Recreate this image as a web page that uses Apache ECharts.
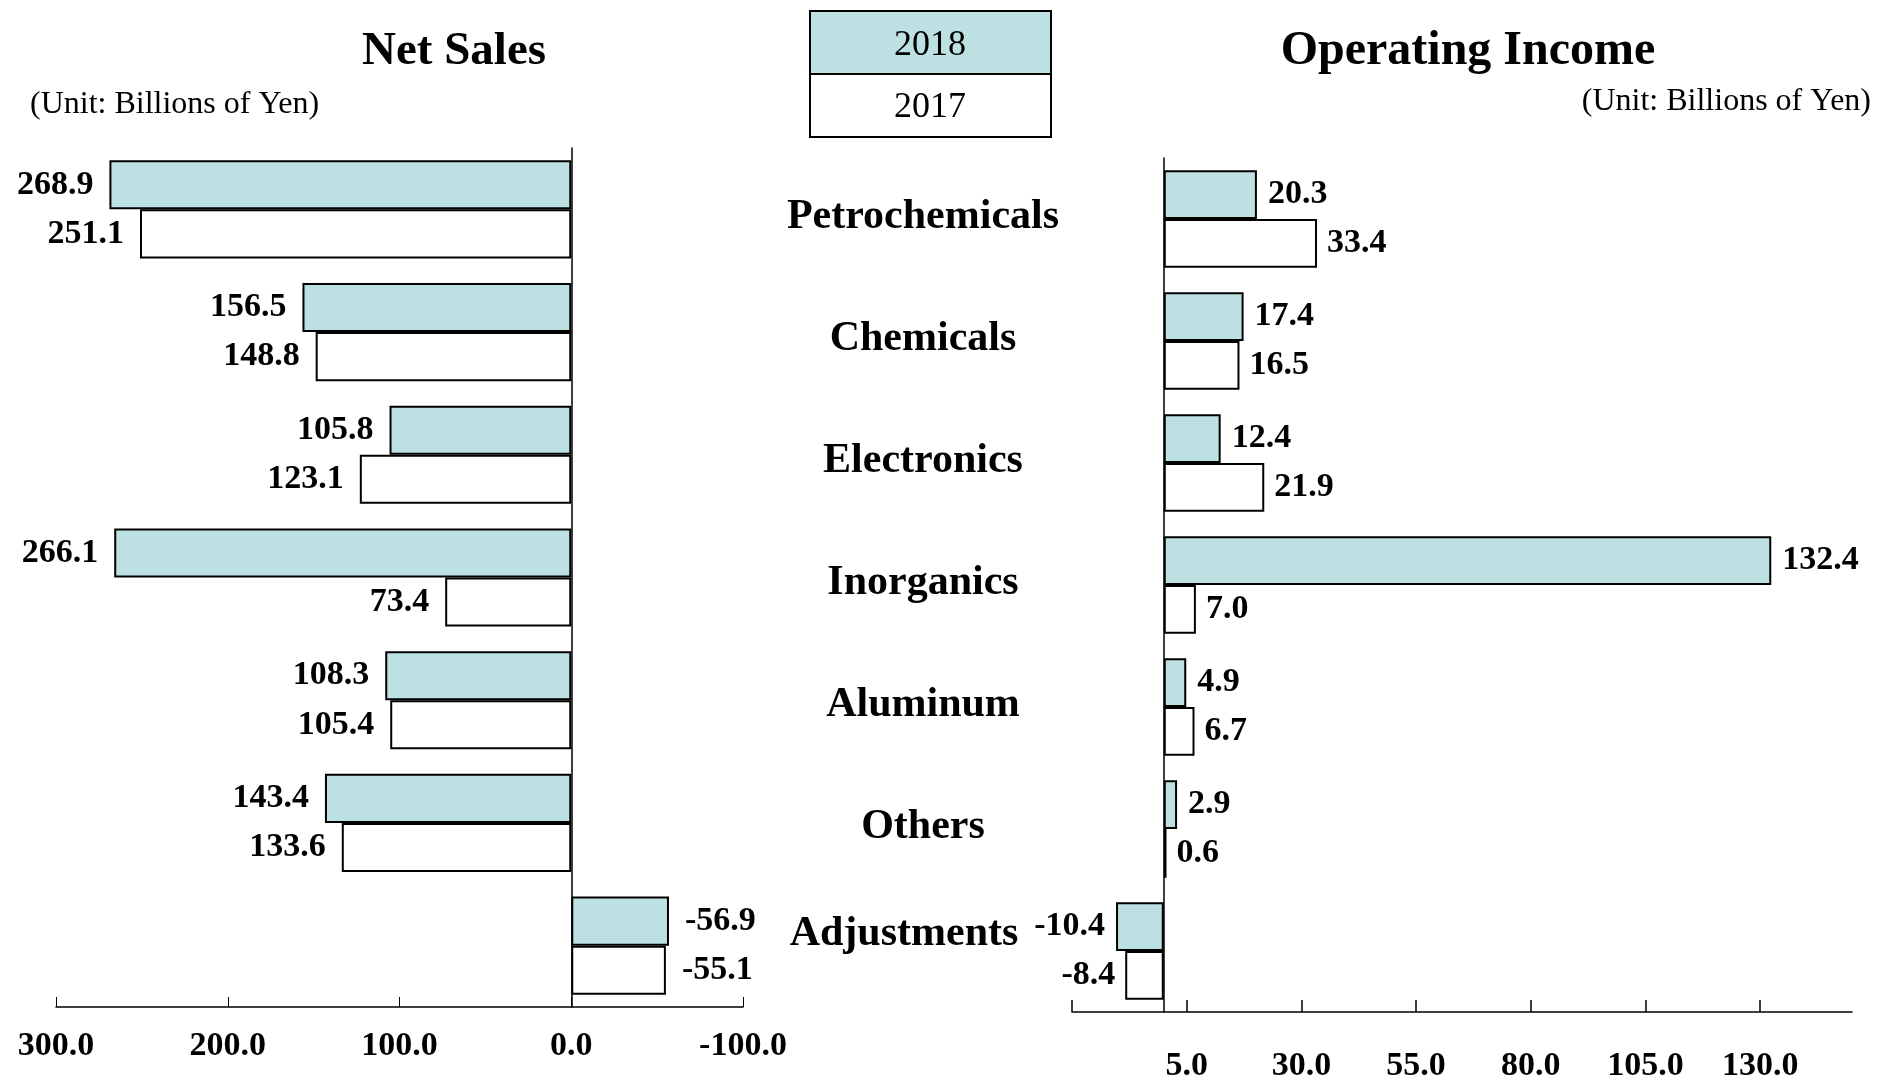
<!DOCTYPE html>
<html>
<head>
<meta charset="utf-8">
<script src="https://cdn.jsdelivr.net/npm/echarts@6/dist/echarts.min.js"></script>
<style>
    html, body { margin: 0; padding: 0; background: #fff; }
    #main { width: 1877px; height: 1084px; }
</style>
</head>
<body>
<div id="main"></div>
<script>
// 数据
let categories = ['Petrochemicals', 'Chemicals', 'Electronics', 'Inorganics', 'Aluminum', 'Others', 'Adjustments']
let years = ['2018', '2017']
let sales2018 = [268.9, 156.5, 105.8, 266.1, 108.3, 143.4, -56.9]
let sales2017 = [251.1, 148.8, 123.1, 73.4, 105.4, 133.6, -55.1]
let income2018 = [20.3, 17.4, 12.4, 132.4, 4.9, 2.9, -10.4]
let income2017 = [33.4, 16.5, 21.9, 7.0, 6.7, 0.6, -8.4]
let incomeTicks = [-20, 5, 30, 55, 80, 105, 130]
let incomeTickLabels = [5, 30, 55, 80, 105, 130]

let serif = '"Liberation Serif", "Times New Roman", serif'
let blue = '#bde0e3'

// 每个柱子的标签放在柱子末端外侧
function makeData(arr, posSide, negSide) {
    return arr.map(function (v) {
        return { value: v, label: { position: v >= 0 ? posSide : negSide } }
    })
}

function makeBar(name, arr, idx, color, posSide, negSide, dist) {
    return {
        name: name,
        type: 'bar',
        xAxisIndex: idx,
        yAxisIndex: idx,
        data: makeData(arr, posSide, negSide),
        barGap: '0%',
        barCategoryGap: '20%',
        itemStyle: { color: color, borderColor: '#000', borderWidth: 2 },
        label: {
            show: true,
            distance: dist,
            formatter: function (p) { return p.value.toFixed(1) },
            fontFamily: serif,
            fontWeight: 'bold',
            fontSize: 34,
            color: '#000'
        }
    }
}

let tickFont = { fontFamily: serif, fontWeight: 'bold', fontSize: 34, color: '#000' }

let myChart = echarts.init(document.getElementById('main'))
let option = {
    animation: false,
    backgroundColor: '#fff',
    grid: [
        { left: 56, width: 687, top: 148, height: 859 },
        { left: 1072, width: 780, top: 158, height: 854 }
    ],
    xAxis: [
        {
            gridIndex: 0,
            type: 'value',
            inverse: true,
            min: -100,
            max: 300,
            interval: 100,
            axisLine: { show: true, onZero: false, lineStyle: { color: '#000', width: 1.5 } },
            axisTick: { show: true, inside: true, length: 10, lineStyle: { color: '#000', width: 1 } },
            axisLabel: Object.assign({ margin: 22, formatter: function (v) { return v.toFixed(1) } }, tickFont),
            splitLine: { show: false }
        },
        {
            gridIndex: 1,
            type: 'value',
            min: -20,
            max: 150,
            axisLine: { show: true, onZero: false, lineStyle: { color: '#000', width: 1.5 } },
            axisTick: { show: true, inside: true, length: 12, customValues: incomeTicks, lineStyle: { color: '#000', width: 1.5 } },
            axisLabel: Object.assign({
                margin: 37,
                customValues: incomeTickLabels,
                formatter: function (v) { return v.toFixed(1) }
            }, tickFont),
            splitLine: { show: false }
        }
    ],
    yAxis: [
        {
            gridIndex: 0,
            type: 'category',
            data: categories,
            inverse: true,
            axisLine: { show: true, onZero: true, lineStyle: { color: '#000', width: 1.5 } },
            axisTick: { show: false },
            axisLabel: { show: false }
        },
        {
            gridIndex: 1,
            type: 'category',
            data: categories,
            inverse: true,
            axisLine: { show: true, onZero: true, lineStyle: { color: '#000', width: 1.5 } },
            axisTick: { show: false },
            axisLabel: {
                align: 'center',
                margin: 149,
                padding: [0, 0, 3, 0],
                fontFamily: serif,
                fontWeight: 'bold',
                fontSize: 42,
                color: '#000',
                formatter: function (v, i) {
                    // 最后一项往左上挪一点，避免和数值标签重叠
                    return i === categories.length - 1 ? '{adj|' + v + '}' : v
                },
                rich: {
                    adj: { fontFamily: serif, fontWeight: 'bold', fontSize: 42, color: '#000', padding: [0, 38, 30, 0] }
                }
            }
        }
    ],
    series: [
        makeBar(years[0], sales2018, 0, blue, 'left', 'right', 16),
        makeBar(years[1], sales2017, 0, '#fff', 'left', 'right', 16),
        makeBar(years[0], income2018, 1, blue, 'right', 'left', 11),
        makeBar(years[1], income2017, 1, '#fff', 'right', 'left', 10)
    ],
    graphic: [
        { type: 'text', x: 454, y: 52, style: { text: 'Net Sales', font: 'bold 47px ' + serif, fill: '#000', textAlign: 'center', textVerticalAlign: 'middle' } },
        { type: 'text', x: 1468, y: 52, style: { text: 'Operating Income', font: 'bold 48px ' + serif, fill: '#000', textAlign: 'center', textVerticalAlign: 'middle' } },
        { type: 'text', x: 30, y: 105, style: { text: '(Unit: Billions of Yen)', font: '32px ' + serif, fill: '#000', textAlign: 'left', textVerticalAlign: 'middle' } },
        { type: 'text', x: 1871, y: 102, style: { text: '(Unit: Billions of Yen)', font: '32px ' + serif, fill: '#000', textAlign: 'right', textVerticalAlign: 'middle' } },
        // 图例框
        { type: 'rect', shape: { x: 810, y: 11, width: 241, height: 63 }, style: { fill: blue, stroke: '#000', lineWidth: 2 } },
        { type: 'rect', shape: { x: 810, y: 74, width: 241, height: 63 }, style: { fill: '#fff', stroke: '#000', lineWidth: 2 } },
        { type: 'text', x: 930, y: 46, style: { text: years[0], font: '36px ' + serif, fill: '#000', textAlign: 'center', textVerticalAlign: 'middle' } },
        { type: 'text', x: 930, y: 108, style: { text: years[1], font: '36px ' + serif, fill: '#000', textAlign: 'center', textVerticalAlign: 'middle' } }
    ]
}
myChart.setOption(option)
</script>
</body>
</html>
